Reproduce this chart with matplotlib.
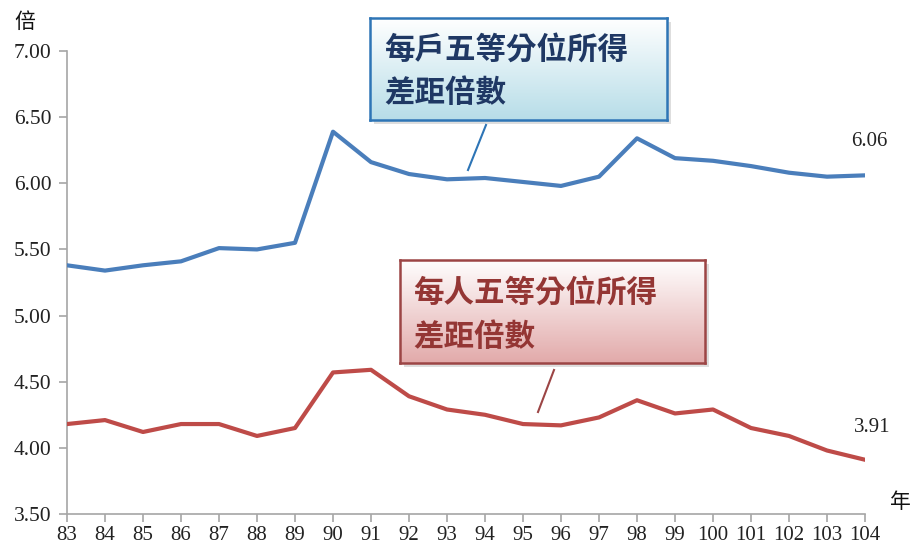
import matplotlib
matplotlib.use("Agg")
import matplotlib.pyplot as plt
import numpy as np
from matplotlib.lines import Line2D
from matplotlib.patches import Rectangle

years = list(range(83, 105))
household = [5.38, 5.34, 5.38, 5.41, 5.51, 5.50, 5.55, 6.39, 6.16, 6.07, 6.03,
             6.04, 6.01, 5.98, 6.05, 6.34, 6.19, 6.17, 6.13, 6.08, 6.05, 6.06]
person = [4.18, 4.21, 4.12, 4.18, 4.18, 4.09, 4.15, 4.57, 4.59, 4.39, 4.29,
          4.25, 4.18, 4.17, 4.23, 4.36, 4.26, 4.29, 4.15, 4.09, 3.98, 3.91]
yticks = [3.50, 4.00, 4.50, 5.00, 5.50, 6.00, 6.50, 7.00]
blue_label = ["每戶五等分位所得", "差距倍數"]
red_label = ["每人五等分位所得", "差距倍數"]

CJK = ["Noto Sans CJK TC", "DejaVu Sans"]
SERIF = ["Liberation Serif", "DejaVu Serif"]
W, H = 912, 549

fig = plt.figure(figsize=(9.12, 5.49), dpi=100)
ax = fig.add_axes([67 / W, 1 - 514 / H, (865 - 67) / W, (514 - 51) / H])

ax.plot(years, household, color="#4a7ebb", lw=3.0, solid_joinstyle="round", zorder=3)
ax.plot(years, person, color="#be4b48", lw=3.0, solid_joinstyle="round", zorder=3)

ax.set_xlim(83, 104)
ax.set_ylim(3.5, 7.0)
ax.set_xticks(years)
ax.set_xticklabels([str(y) for y in years], fontfamily=SERIF, fontsize=15)
ax.set_yticks(yticks)
ax.set_yticklabels([f"{v:.2f}" for v in yticks], fontfamily=SERIF, fontsize=15.5)
for s in ["top", "right"]:
    ax.spines[s].set_visible(False)
for s in ["left", "bottom"]:
    ax.spines[s].set_color("#a6a6a6")
    ax.spines[s].set_linewidth(1.2)
ax.tick_params(axis="both", colors="#a6a6a6", labelcolor="#222222", length=6, width=1.2, direction="out")
ax.tick_params(axis="y", pad=5)
ax.tick_params(axis="x", pad=3)

# end labels
ax.annotate(f"{household[-1]:.2f}", xy=(years[-1], household[-1]), xytext=(3, 21),
            textcoords="offset points", fontfamily=SERIF, fontsize=15, color="#222222", ha="center")
ax.annotate(f"{person[-1]:.2f}", xy=(years[-1], person[-1]), xytext=(5, 20),
            textcoords="offset points", fontfamily=SERIF, fontsize=15, color="#222222", ha="center")

# unit labels
fig.text(25 / W, 1 - 22 / H, "倍", fontfamily=CJK, fontsize=15, ha="center", va="center", color="#111111")
fig.text(900 / W, 1 - 502 / H, "年", fontfamily=CJK, fontsize=15, ha="center", va="center", color="#111111")


def callout(x0, y0, w, h, top_c, bot_c, edge, tcolor, lines, tx, ty):
    # shadow
    fig.patches.append(Rectangle(((x0 + 4) / W, 1 - (y0 + h + 4) / H), w / W, h / H,
                                 transform=fig.transFigure, facecolor="#c8c8c8",
                                 edgecolor="none", alpha=0.6, zorder=4))
    bax = fig.add_axes([x0 / W, 1 - (y0 + h) / H, w / W, h / H], zorder=5)
    t = np.linspace(0, 1, 256).reshape(-1, 1)
    c1 = np.array(matplotlib.colors.to_rgb(top_c))
    c2 = np.array(matplotlib.colors.to_rgb(bot_c))
    img = c1[None, None, :] * (1 - t[:, :, None]) + c2[None, None, :] * t[:, :, None]
    bax.imshow(img, aspect="auto", extent=[0, 1, 0, 1], origin="upper")
    bax.set_xticks([])
    bax.set_yticks([])
    for s in bax.spines.values():
        s.set_color(edge)
        s.set_linewidth(1.8)
    for line, yy in zip(lines, ty):
        fig.text(tx / W, 1 - yy / H, line, fontfamily=CJK, fontsize=22, fontweight="bold",
                 color=tcolor, ha="left", va="center", zorder=7)
    return bax


callout(370, 18, 297, 102, "#ffffff", "#b7dde8", "#2e75b6", "#1f3864", blue_label, 384, [50, 93])
callout(400, 260, 305, 103, "#ffffff", "#e2aaaa", "#9c4545", "#943634", red_label, 413, [293, 337])

# leader lines
fig.lines.append(Line2D([486 / W, 468 / W], [1 - 125 / H, 1 - 170 / H], transform=fig.transFigure,
                        color="#2e75b6", lw=1.5, zorder=6))
fig.lines.append(Line2D([554 / W, 538 / W], [1 - 370 / H, 1 - 412 / H], transform=fig.transFigure,
                        color="#9c4545", lw=1.5, zorder=6))

fig.savefig("out.png", dpi=100)
